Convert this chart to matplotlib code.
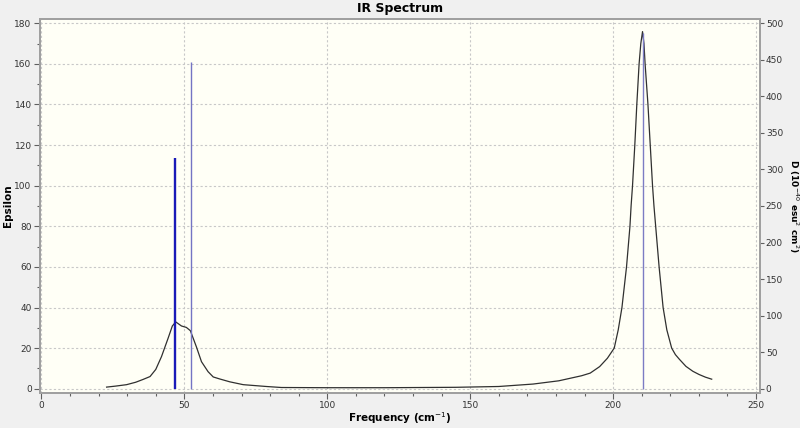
import matplotlib
matplotlib.use("Agg")
import matplotlib.pyplot as plt
from matplotlib.ticker import MultipleLocator

# broadened spectrum (frequency cm-1, epsilon)
freq = [22.8, 26.0, 29.8, 33.0, 35.6, 38.0, 40.0, 42.0, 44.3, 45.8, 47.0, 49.0,
        50.7, 52.1, 54.2, 56.0, 58.3, 60.1, 62.4, 65.9, 70.6, 78.7, 84.0, 100.0,
        120.0, 145.0, 160.0, 172.0, 181.0, 189.0, 192.0, 195.3, 198.0, 200.4,
        201.8, 203.1, 203.9, 204.7, 205.3, 205.9, 206.3, 206.8, 207.6, 208.3,
        209.1, 209.7, 210.3, 210.8, 211.2, 212.2, 213.0, 213.8, 214.3, 214.9,
        215.5, 216.1, 216.8, 217.5, 218.8, 220.5, 221.8, 223.2, 225.5, 227.9,
        230.1, 232.3, 234.5]
epsilon = [0.8, 1.3, 2.0, 3.2, 4.6, 6.0, 9.5, 15.8, 24.8, 30.9, 32.9, 30.9,
           30.2, 28.6, 20.7, 13.3, 8.4, 5.8, 4.8, 3.4, 2.0, 1.1, 0.6, 0.5,
           0.5, 0.7, 1.1, 2.3, 3.9, 6.4, 7.7, 10.9, 15.0, 20.0,
           29.0, 40.0, 50.0, 60.0, 70.0, 80.0, 90.0, 100.0, 120.0, 140.0,
           160.0, 170.0, 175.9, 170.0, 160.0, 140.0, 120.0, 100.0, 90.0, 80.0,
           70.0, 60.0, 50.0, 40.0, 29.0, 20.0, 16.8, 14.5, 11.0, 8.6,
           7.0, 5.7, 4.7]

# stick spectrum (frequency, D in 10^-40 esu^2 cm^2)
stick_freq = [46.7, 52.2, 210.4]
stick_d = [315, 447, 487]

fig = plt.figure(figsize=(8, 4.28), dpi=100, facecolor="#f0f0f0")
ax = fig.add_axes([0.05, 0.0818, 0.9, 0.8738])
ax.set_facecolor("#fffff6")

ax.plot(freq, epsilon, color="#303030", lw=0.9, zorder=3)

ax.set_xlim(-0.5, 251.4)
ax.set_ylim(-2.1, 182.1)
ax.xaxis.set_major_locator(MultipleLocator(50))
ax.xaxis.set_minor_locator(MultipleLocator(10))
ax.yaxis.set_major_locator(MultipleLocator(20))
ax.yaxis.set_minor_locator(MultipleLocator(10))
ax.grid(True, which="major", color="#c8c8c8", linestyle=(0, (2, 2)), lw=0.8)
ax.set_axisbelow(True)

ax2 = ax.twinx()
ax2.set_ylim(-2.1 * 500 / 180, 182.1 * 500 / 180)
ax2.yaxis.set_major_locator(MultipleLocator(50))
widths = [1.7, 1.0, 1.0]
colors = ["#1a1ab8", "#7474c4", "#7c7cc4"]
for f, d, w, c in zip(stick_freq, stick_d, widths, colors):
    ax2.vlines(f, 0, d, color=c, lw=w, zorder=2)

for a in (ax, ax2):
    for s in a.spines.values():
        s.set_color("#a0a0a0")
        s.set_linewidth(1.3)
    a.tick_params(which="major", length=4, width=0.8, color="#606060",
                  labelsize=6.5, labelcolor="#333333", pad=2)
    a.tick_params(which="minor", length=2.5, width=0.8, color="#606060")
ax2.tick_params(which="major", length=3, pad=1.2)

ax.set_title("IR Spectrum", fontsize=9, fontweight="bold", pad=5)
ax.set_xlabel(r"Frequency (cm$^{-1}$)", fontsize=7.5, fontweight="bold")
ax.xaxis.set_label_coords(0.5, -0.068)
ax.xaxis.label.set_va("center")
ax.set_ylabel("Epsilon", fontsize=7.5, fontweight="bold")
ax.yaxis.set_label_coords(-0.044, 0.5)
ax.yaxis.label.set_va("center")
ax2.set_ylabel(r"D (10$^{-40}$ esu$^{2}$ cm$^{2}$)", fontsize=6.5,
               fontweight="bold", rotation=270)
ax2.yaxis.set_label_coords(1.047, 0.5)
ax2.yaxis.label.set_va("center")

fig.savefig("out.png", dpi=100, facecolor=fig.get_facecolor())
